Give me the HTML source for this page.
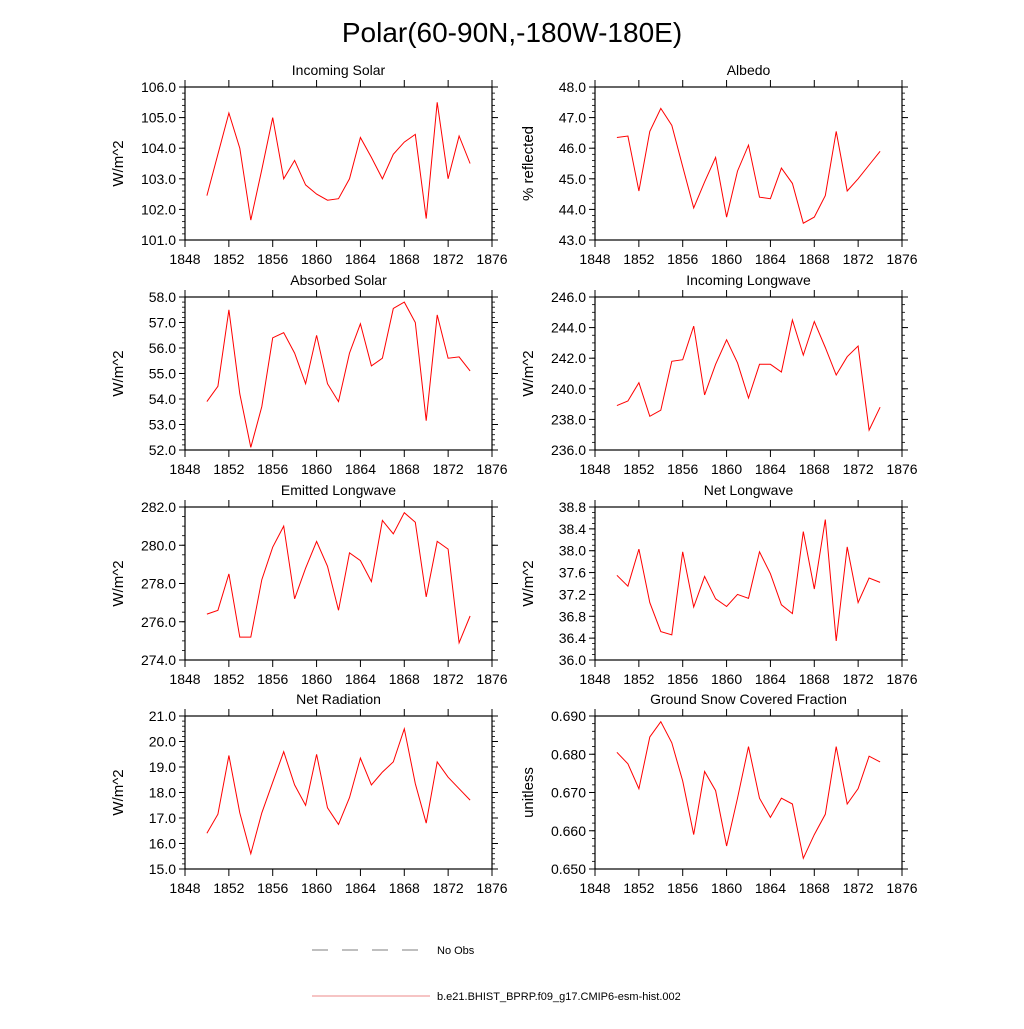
<!DOCTYPE html>
<html><head><meta charset="utf-8"><style>
body{margin:0;background:#fff;}
svg{font-family:"Liberation Sans",sans-serif;}
</style></head><body>
<svg id="chart" width="1024" height="1024" xmlns="http://www.w3.org/2000/svg">
<rect width="1024" height="1024" fill="#fff"/>
<text x="512" y="42" font-size="28" text-anchor="middle">Polar(60-90N,-180W-180E)</text>
<g>
<line x1="312" y1="950" x2="430" y2="950" stroke="#555" stroke-width="0.8" stroke-dasharray="16,14"/>
<text x="437" y="954" font-size="11">No Obs</text>
<line x1="312" y1="996" x2="430" y2="996" stroke="#e88" stroke-width="1"/>
<text x="437" y="1000" font-size="11">b.e21.BHIST_BPRP.f09_g17.CMIP6-esm-hist.002</text>
</g>
</svg>
<script>
const years=[1850,1851,1852,1853,1854,1855,1856,1857,1858,1859,1860,1861,1862,1863,1864,1865,1866,1867,1868,1869,1870,1871,1872,1873,1874];
const xTicks=[1848,1852,1856,1860,1864,1868,1872,1876];
const incomingSolar=[102.45,103.8,105.15,104.0,101.65,103.3,105.0,103.0,103.6,102.8,102.5,102.3,102.35,103.0,104.35,103.7,103.0,103.8,104.2,104.45,101.7,105.5,103.0,104.4,103.5];
const albedo=[46.35,46.4,44.6,46.55,47.3,46.75,45.4,44.05,44.9,45.7,43.75,45.25,46.1,44.4,44.35,45.35,44.85,43.55,43.75,44.45,46.55,44.6,45.0,45.45,45.9];
const absorbedSolar=[53.9,54.5,57.5,54.2,52.1,53.7,56.4,56.6,55.8,54.6,56.5,54.6,53.9,55.8,56.95,55.3,55.6,57.55,57.8,57.0,53.15,57.3,55.6,55.65,55.1];
const incomingLW=[238.9,239.2,240.4,238.2,238.6,241.8,241.9,244.1,239.6,241.6,243.2,241.7,239.4,241.6,241.6,241.1,244.5,242.2,244.4,242.7,240.9,242.1,242.8,237.3,238.8];
const emittedLW=[276.4,276.6,278.5,275.2,275.2,278.2,279.9,281.0,277.2,278.8,280.2,278.9,276.6,279.6,279.2,278.1,281.3,280.6,281.7,281.2,277.3,280.2,279.8,274.9,276.3];
const netLW=[37.55,37.35,38.03,37.05,36.52,36.46,37.98,36.97,37.53,37.12,36.98,37.2,37.13,37.98,37.58,37.01,36.85,38.35,37.3,38.57,36.35,38.07,37.05,37.5,37.42];
const netRad=[16.4,17.15,19.45,17.2,15.6,17.2,18.4,19.6,18.3,17.5,19.5,17.4,16.75,17.8,19.35,18.3,18.8,19.2,20.5,18.35,16.8,19.2,18.6,18.15,17.7];
const snowFrac=[0.6805,0.6775,0.671,0.6845,0.6885,0.683,0.673,0.659,0.6755,0.6705,0.656,0.6685,0.682,0.6685,0.6635,0.6685,0.667,0.6528,0.659,0.6643,0.682,0.667,0.671,0.6795,0.678];
const panels=[
 {name:'incoming-solar',title:'Incoming Solar',ylab:'W/m^2',data:incomingSolar,min:101,max:106,step:1,minor:0.2,dec:1,col:0,row:0},
 {name:'albedo',title:'Albedo',ylab:'% reflected',data:albedo,min:43,max:48,step:1,minor:0.2,dec:1,col:1,row:0},
 {name:'absorbed-solar',title:'Absorbed Solar',ylab:'W/m^2',data:absorbedSolar,min:52,max:58,step:1,minor:0.2,dec:1,col:0,row:1},
 {name:'incoming-longwave',title:'Incoming Longwave',ylab:'W/m^2',data:incomingLW,min:236,max:246,step:2,minor:0.5,dec:1,col:1,row:1},
 {name:'emitted-longwave',title:'Emitted Longwave',ylab:'W/m^2',data:emittedLW,min:274,max:282,step:2,minor:0.5,dec:1,col:0,row:2},
 {name:'net-longwave',title:'Net Longwave',ylab:'W/m^2',data:netLW,min:36,max:38.8,step:0.4,minor:0.1,dec:1,col:1,row:2},
 {name:'net-radiation',title:'Net Radiation',ylab:'W/m^2',data:netRad,min:15,max:21,step:1,minor:0.2,dec:1,col:0,row:3},
 {name:'ground-snow-fraction',title:'Ground Snow Covered Fraction',ylab:'unitless',data:snowFrac,min:0.65,max:0.69,step:0.01,minor:0.002,dec:3,col:1,row:3}
];
const NS='http://www.w3.org/2000/svg';
const svg=document.getElementById('chart');
function mk(tag,attrs,parent){const e=document.createElementNS(NS,tag);for(const k in attrs)e.setAttribute(k,attrs[k]);parent.appendChild(e);return e;}
const colX=[185,595],W=307,rowY=[87,297,507,716],H=153;
panels.forEach(p=>{
 const x0=colX[p.col],y0=rowY[p.row];
 const g=mk('g',{},svg);
 
 
 const xs=v=>x0+(v-1848)/(1876-1848)*W;
 const ys=v=>y0+H-(v-p.min)/(p.max-p.min)*H;
 const t=mk('text',{x:x0+W/2,y:y0-12,'font-size':14,'text-anchor':'middle'},g);t.textContent=p.title;
 
 
 const yl=mk('text',{x:0,y:0,'font-size':15,'text-anchor':'middle',transform:`translate(${x0-62},${y0+H/2}) rotate(-90)`},g);yl.textContent=p.ylab;
 
 
 const nMin=Math.round((p.max-p.min)/p.minor);
 for(let i=0;i<=nMin;i++){const y=ys(p.min+i*p.minor);
  mk('line',{x1:x0-3,x2:x0,y1:y,y2:y,stroke:'#000','stroke-width':0.8},g);
  mk('line',{x1:x0+W,x2:x0+W+3,y1:y,y2:y,stroke:'#000','stroke-width':0.8},g);}
 const nMaj=Math.round((p.max-p.min)/p.step);
 for(let i=0;i<=nMaj;i++){const v=p.min+i*p.step,y=ys(v);
  mk('line',{x1:x0-6,x2:x0,y1:y,y2:y,stroke:'#000','stroke-width':1},g);
  mk('line',{x1:x0+W,x2:x0+W+6,y1:y,y2:y,stroke:'#000','stroke-width':1},g);
  const tl=mk('text',{x:x0-9,y:y+5,'font-size':14,'text-anchor':'end'},g);tl.textContent=v.toFixed(p.dec);
  
  }
 xTicks.forEach(v=>{const x=xs(v);
  mk('line',{x1:x,x2:x,y1:y0+H,y2:y0+H+7,stroke:'#000','stroke-width':1},g);
  mk('line',{x1:x,x2:x,y1:y0-7,y2:y0,stroke:'#000','stroke-width':1},g);
  const tl=mk('text',{x:x,y:y0+H+24,'font-size':14,'text-anchor':'middle'},g);tl.textContent=v;
  
  });
 mk('rect',{x:x0,y:y0,width:W,height:H,fill:'none',stroke:'#000','stroke-width':1.2},g);
 const pl=mk('polyline',{points:p.data.map((v,i)=>xs(years[i]).toFixed(1)+','+ys(v).toFixed(1)).join(' '),fill:'none',stroke:'#f00','stroke-width':1},g);
 
 
});
</script>
</body></html>
